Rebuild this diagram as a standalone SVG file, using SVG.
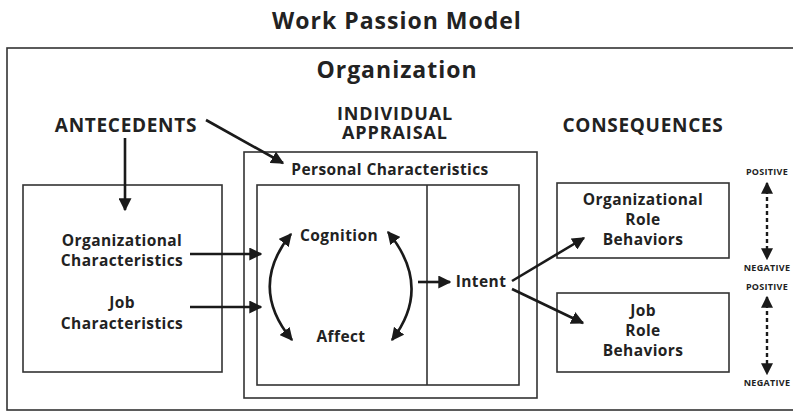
<svg xmlns="http://www.w3.org/2000/svg" width="793" height="415" viewBox="0 0 793 415">
<defs>
<style>
text{font-family:"Open Sans","Liberation Sans",sans-serif;font-weight:700;fill:#222;text-anchor:middle}
.box{fill:none;stroke:#333;stroke-width:1.6}
.c{fill:none;stroke:#1a1a1a;stroke-width:2.6}
.d{fill:none;stroke:#1a1a1a;stroke-width:2.4;stroke-dasharray:4 3}
.t{font-size:15.5px;letter-spacing:0.4px}
.h{font-size:19px;letter-spacing:0.7px}
.h2{font-size:18px;letter-spacing:0.9px}
.b{font-size:23px;letter-spacing:1px}
.s{font-size:9px;letter-spacing:0.3px}
</style>
<marker id="ah" viewBox="0 0 10 10" refX="9" refY="5" markerWidth="5" markerHeight="5" orient="auto-start-reverse" markerUnits="strokeWidth">
<path d="M0,0 L10,5 L0,10 z" fill="#1a1a1a"/>
</marker>
</defs>
<rect width="793" height="415" fill="#fff"/>
<text class="b" x="397" y="29">Work Passion Model</text>
<g id="organization">
<rect class="box" x="7" y="48" width="788" height="362"/>
<text class="b" x="397" y="78">Organization</text>
</g>
<g id="antecedents"><text class="h" x="126" y="132">ANTECEDENTS</text></g>
<g id="individual-appraisal"><text class="h2" x="395" y="120">INDIVIDUAL</text><text class="h2" x="395" y="139">APPRAISAL</text></g>
<g id="consequences"><text class="h" x="643" y="132">CONSEQUENCES</text></g>
<g id="antecedent-box">
<rect class="box" x="23" y="185" width="199" height="187"/>
<text class="t" x="122" y="246">Organizational</text>
<text class="t" x="122" y="266">Characteristics</text>
<text class="t" x="122" y="308">Job</text>
<text class="t" x="122" y="329">Characteristics</text>
</g>
<g id="personal-characteristics">
<rect class="box" x="244" y="152" width="293" height="246"/>
<text class="t" x="390" y="175">Personal Characteristics</text>
</g>
<g id="appraisal-inner">
<rect class="box" x="257" y="185" width="262" height="200"/>
<line class="box" x1="427" y1="185" x2="427" y2="385"/>
</g>
<g id="cognition"><text class="t" x="339" y="241">Cognition</text></g>
<g id="affect"><text class="t" x="341" y="342">Affect</text></g>
<g id="intent"><text class="t" x="481" y="287">Intent</text></g>
<g id="org-role">
<rect class="box" x="557" y="183" width="172" height="75"/>
<text class="t" x="643" y="205">Organizational</text>
<text class="t" x="643" y="225">Role</text>
<text class="t" x="643" y="245">Behaviors</text>
</g>
<g id="job-role">
<rect class="box" x="557" y="293" width="172" height="79"/>
<text class="t" x="643" y="316">Job</text>
<text class="t" x="643" y="336">Role</text>
<text class="t" x="643" y="356">Behaviors</text>
</g>
<g id="scale-1">
<text class="s" x="767" y="175">POSITIVE</text>
<text class="s" x="767" y="271">NEGATIVE</text>
</g>
<g id="scale-2">
<text class="s" x="767" y="290">POSITIVE</text>
<text class="s" x="767" y="386">NEGATIVE</text>
</g>
<g id="connectors">
<line class="c" x1="125" y1="138" x2="125" y2="210" marker-end="url(#ah)"/>
<line class="c" x1="206" y1="120" x2="283" y2="163" marker-end="url(#ah)"/>
<line class="c" x1="190" y1="254" x2="261" y2="254" marker-end="url(#ah)"/>
<line class="c" x1="190" y1="307" x2="261" y2="307" marker-end="url(#ah)"/>
<path class="c" d="M291,234 Q248,287 292,340" marker-start="url(#ah)" marker-end="url(#ah)"/>
<path class="c" d="M388,232 Q433,287 392,340" marker-start="url(#ah)" marker-end="url(#ah)"/>
<line class="c" x1="418" y1="282" x2="450" y2="282" marker-end="url(#ah)"/>
<line class="c" x1="512" y1="281" x2="584" y2="238" marker-end="url(#ah)"/>
<line class="c" x1="512" y1="289" x2="583" y2="323" marker-end="url(#ah)"/>
<line class="d" x1="767" y1="183" x2="767" y2="259" marker-start="url(#ah)" marker-end="url(#ah)"/>
<line class="d" x1="767" y1="297" x2="767" y2="374" marker-start="url(#ah)" marker-end="url(#ah)"/>
</g>
</svg>
